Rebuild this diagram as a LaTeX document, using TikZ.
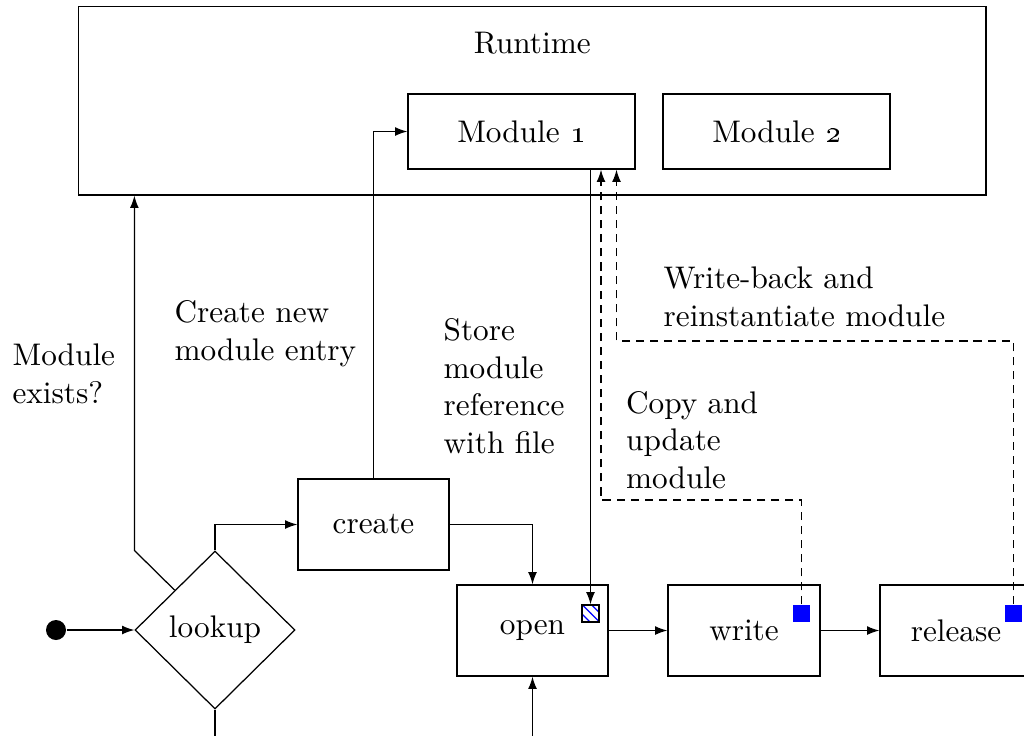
\documentclass[tikz,border=0pt]{standalone}
\usetikzlibrary{arrows.meta,shapes.geometric,patterns}
\def\u{0.32pt}
\tikzset{
  txt/.style={font=\fontsize{10}{12}\selectfont},
  box/.style={draw, rectangle, inner sep=0pt, txt},
  arr/.style={-{Latex[length=3.9pt,width=2.8pt]}},
  dsh/.style={dash pattern=on 2.6pt off 1.9pt},
  lbl/.style={align=left, anchor=base west, inner sep=0pt, txt},
  bluesq/.style={fill=blue, inner sep=0pt, minimum size=17*\u},
  hatchsq/.style={draw, pattern=north west lines, pattern color=blue, inner sep=0pt, minimum size=17*\u},
}
\begin{document}
\begin{tikzpicture}[x=\u, y=-\u, line width=0.4pt]
\useasboundingbox (0,0) rectangle (1024,735);
\clip (0,0) rectangle (1024,735);
% runtime and modules
\node[box, minimum width=907.5*\u, minimum height=188.5*\u] (rt) at (532.25,100.75) {};
\node[txt, anchor=base, inner sep=0pt] (rtl) at (532.25,53) {Runtime};
\node[box, minimum width=227*\u, minimum height=75*\u] (m1) at (521.5,131.5) {Module \oldstylenums{1}};
\node[box, minimum width=227*\u, minimum height=75*\u] (m2) at (776.5,131.5) {Module \oldstylenums{2}};
% flow
\node[circle, fill=black, inner sep=0pt, minimum size=20*\u] (st) at (56,630) {};
\node[diamond, draw, inner sep=0pt, minimum width=160*\u, minimum height=158*\u, txt] (lk) at (215,630) {lookup};
\node[box, minimum width=151*\u, minimum height=91*\u] (cr) at (373.5,524.5) {create};
\node[box, minimum width=151*\u, minimum height=91*\u] (op) at (532.5,630.5) {open};
\node[box, minimum width=152*\u, minimum height=91*\u] (wr) at (744,630.5) {write};
\node[box, minimum width=152*\u, minimum height=91*\u] (rl) at (956,630.5) {release};
\node[hatchsq] (oh) at (590.5,613.5) {};
\node[bluesq] (wsq) at (801.5,613.5) {};
\node[bluesq] (rsq) at (1013.5,613.5) {};
\coordinate (cA) at (601,500);
\coordinate (cB) at (616.5,341);
\coordinate (lb) at (215,740);
\coordinate (ob) at (532.5,740);
% labels (anchor at baseline of last line)
\node[lbl] (l1) at (12,403) {Module\\exists?};
\node[lbl] (l2) at (174,360) {Create new\\module entry};
\node[lbl] (l3) at (443,453) {Store\\module\\reference\\with file};
\node[lbl] (l4) at (625.5,488) {Copy and\\update\\module};
\node[lbl] (l5) at (663,326) {Write-back and\\reinstantiate module};
% connectors
\draw[arr] (st) -- (lk.west);
\draw[arr] (lk.north west) -- (lk.west |- lk.north) -- (lk.west |- rt.south);
\draw[arr] (lk.north) |- (cr.west);
\draw[arr] (cr.north) |- (m1.west);
\draw[arr] (cr.east) -| (op.north);
\draw[arr] (oh.north |- m1.south) -- (oh.north);
\draw[arr] (op.east) -- (wr.west);
\draw[arr] (wr.east) -- (rl.west);
\draw[arr, dsh] (wsq.north) |- (cA) -- (cA |- m1.south);
\draw[arr, dsh] (rsq.north) |- (cB) -- (cB |- m1.south);
\draw (lk.south) -- (lb);
\draw[arr] (ob) -- (op.south);
\end{tikzpicture}
\end{document}
